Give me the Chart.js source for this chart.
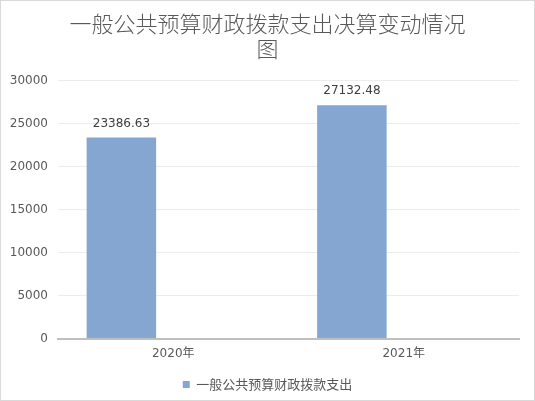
<!DOCTYPE html>
<html lang="zh">
<head>
<meta charset="UTF-8">
<title>一般公共预算财政拨款支出决算变动情况图</title>
<script src="https://cdn.jsdelivr.net/npm/chart.js"></script>
<style>
  html, body { margin: 0; padding: 0; background: #fff; }
  #wrap { width: 535px; height: 401px; }
</style>
</head>
<body>
<div id="wrap"><canvas id="myChart"></canvas></div>
<script>
  // data
  const years = ['2020年', '2021年'];
  const spending = [23386.63, 27132.48];
  const emptySeries = [null, null];
  const seriesName = '一般公共预算财政拨款支出';
  const titleLines = ['一般公共预算财政拨款支出决算变动情况', '图'];

  const cjk = "'DejaVu Sans', 'Noto Sans CJK SC', sans-serif";

  // white background + light frame
  const frame = {
    id: 'frame',
    beforeDraw(chart) {
      const c = chart.ctx;
      c.save();
      c.fillStyle = '#fff';
      c.fillRect(0, 0, chart.width, chart.height);
      c.strokeStyle = '#d9d9d9';
      c.lineWidth = 1;
      c.strokeRect(0.5, 0.5, chart.width - 1, chart.height - 1);
      c.restore();
    }
  };

  // value labels above bars
  const valueLabels = {
    id: 'valueLabels',
    afterDatasetsDraw(chart) {
      const c = chart.ctx;
      const meta = chart.getDatasetMeta(0);
      c.save();
      c.font = "12px 'DejaVu Sans', sans-serif";
      c.fillStyle = '#404040';
      c.textAlign = 'center';
      c.textBaseline = 'middle';
      meta.data.forEach((bar, i) => {
        const v = chart.data.datasets[0].data[i];
        if (v == null) return;
        c.fillText(v.toFixed(2), bar.x, bar.y - 14);
      });
      c.restore();
    }
  };

  const ctx = document.getElementById('myChart').getContext('2d');
  const myChart = new Chart(ctx, {
    type: 'bar',
    plugins: [frame, valueLabels],
    data: {
      labels: years,
      datasets: [
        {
          label: seriesName,
          data: spending,
          backgroundColor: '#85A6D0',
          categoryPercentage: 0.9,
          barPercentage: 0.67
        },
        {
          label: '',
          data: emptySeries,
          backgroundColor: '#C0504D',
          categoryPercentage: 0.9,
          barPercentage: 0.67
        }
      ]
    },
    options: {
      responsive: true,
      maintainAspectRatio: false,
      animation: false,
      layout: { padding: { top: 0, bottom: 0, left: 0, right: 0 } },
      scales: {
        x: {
          grid: { display: false },
          border: { color: '#bfbfbf', width: 2 },
          ticks: {
            color: '#595959',
            padding: 0,
            font: { family: cjk, size: 12 }
          },
          afterFit(s) { s.height += 11; }
        },
        y: {
          min: 0,
          max: 30000,
          grid: { color: '#ececec', drawTicks: false },
          border: { display: false },
          ticks: {
            stepSize: 5000,
            color: '#595959',
            padding: 10,
            font: { family: "'DejaVu Sans', sans-serif", size: 12 },
            callback: v => String(v)
          },
          afterFit(s) { s.width = 58; }
        },
        y2: {
          position: 'right',
          display: true,
          grid: { display: false, drawTicks: false },
          border: { display: false },
          ticks: { display: false },
          afterFit(s) { s.width = 16; }
        }
      },
      plugins: {
        title: {
          display: true,
          text: titleLines,
          color: '#595959',
          font: { family: "'Noto Sans CJK SC', sans-serif", size: 22, weight: '300', lineHeight: 1.15 },
          padding: { top: 11, bottom: 19 }
        },
        legend: {
          position: 'bottom',
          labels: {
            color: '#595959',
            boxWidth: 7,
            boxHeight: 7,
            padding: 6,
            font: { family: "'Noto Sans CJK SC', sans-serif", size: 13 },
            filter: item => item.datasetIndex === 0
          }
        },
        tooltip: { enabled: false }
      }
    }
  });
</script>
</body>
</html>
